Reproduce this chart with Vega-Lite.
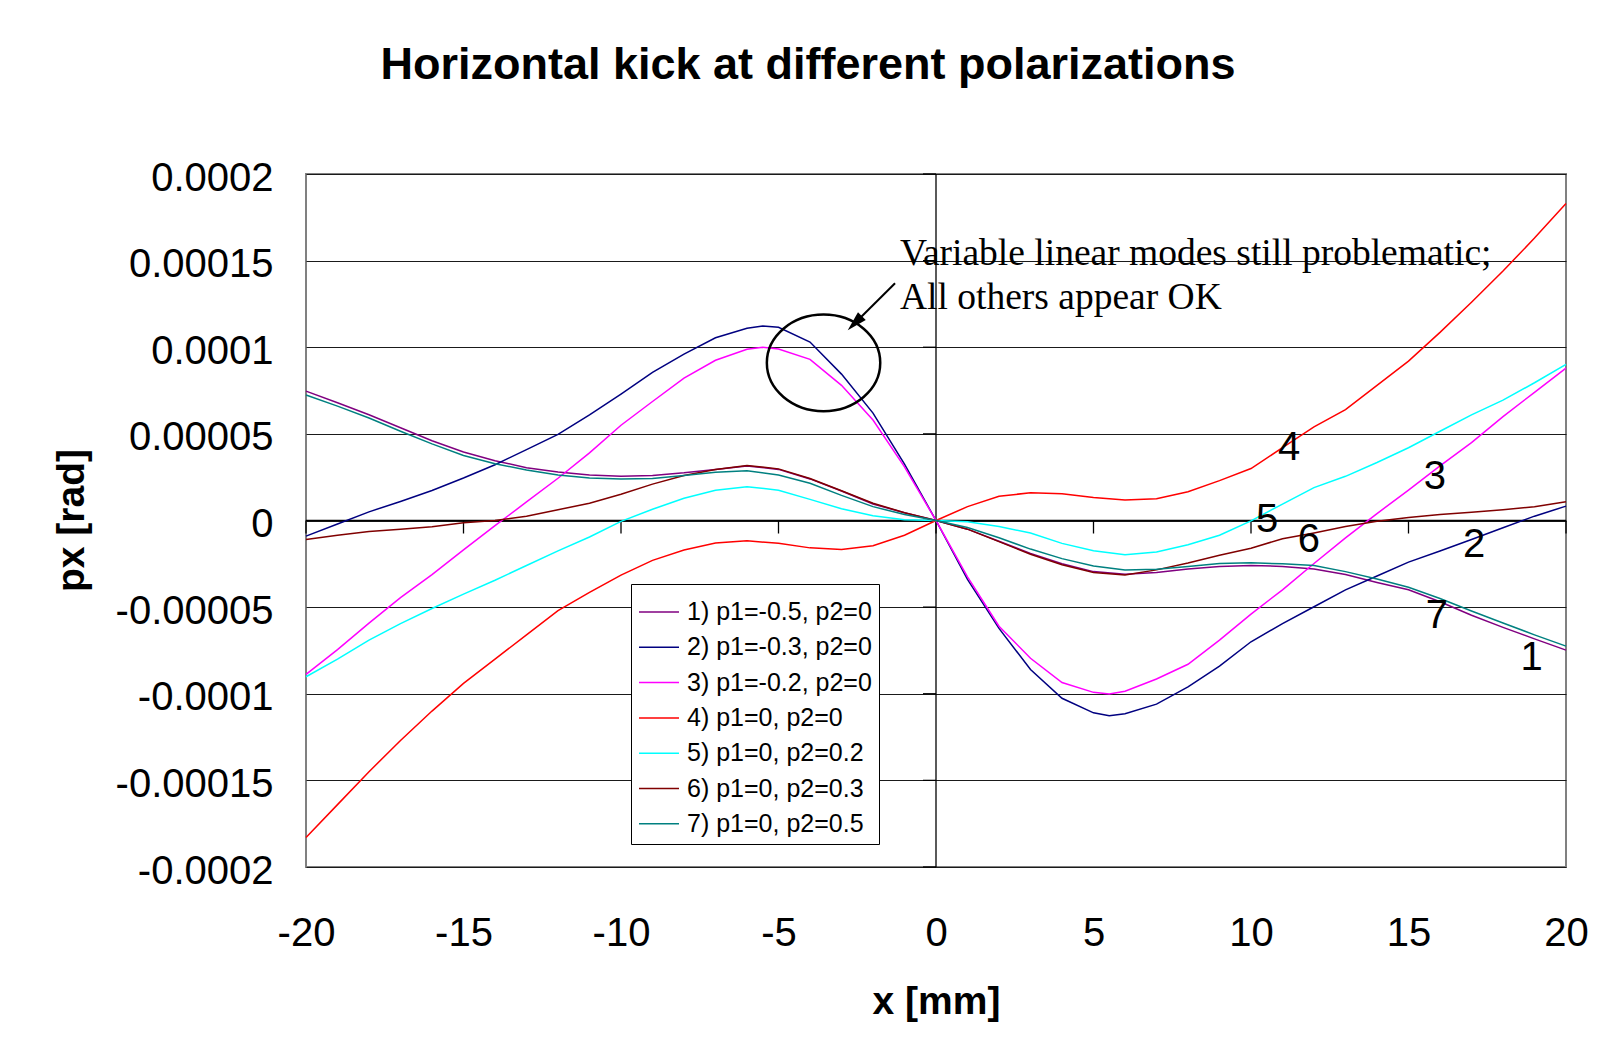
{
  "$schema": "https://vega.github.io/schema/vega-lite/v6.json",
  "width": 1260,
  "height": 693,
  "autosize": {"type": "none"},
  "padding": {"left": 306, "top": 174, "right": 32, "bottom": 190},
  "background": "white",
  "config": {
    "view": {"stroke": "#808080", "strokeWidth": 2},
    "font": "Liberation Sans"
  },
  "title": {
    "text": "Horizontal kick at different polarizations",
    "font": "Liberation Sans",
    "fontSize": 45,
    "fontWeight": "bold",
    "color": "black",
    "anchor": "middle",
    "frame": "group",
    "baseline": "alphabetic",
    "offset": 34,
    "dx": -128
  },
  "datasets": {
    "curves": [
      {"s": "1) p1=-0.5, p2=0", "x": -20, "y": 7.47e-5}, {"s": "1) p1=-0.5, p2=0", "x": -19, "y": 6.8e-5}, {"s": "1) p1=-0.5, p2=0", "x": -18, "y": 6.1e-5}, {"s": "1) p1=-0.5, p2=0", "x": -17, "y": 5.35e-5}, {"s": "1) p1=-0.5, p2=0", "x": -16, "y": 4.6e-5}, {"s": "1) p1=-0.5, p2=0", "x": -15, "y": 3.95e-5}, {"s": "1) p1=-0.5, p2=0", "x": -14, "y": 3.45e-5}, {"s": "1) p1=-0.5, p2=0", "x": -13, "y": 3.05e-5}, {"s": "1) p1=-0.5, p2=0", "x": -12, "y": 2.8e-5}, {"s": "1) p1=-0.5, p2=0", "x": -11, "y": 2.62e-5}, {"s": "1) p1=-0.5, p2=0", "x": -10, "y": 2.56e-5}, {"s": "1) p1=-0.5, p2=0", "x": -9, "y": 2.6e-5}, {"s": "1) p1=-0.5, p2=0", "x": -8, "y": 2.75e-5}, {"s": "1) p1=-0.5, p2=0", "x": -7, "y": 2.95e-5}, {"s": "1) p1=-0.5, p2=0", "x": -6, "y": 3.15e-5}, {"s": "1) p1=-0.5, p2=0", "x": -5, "y": 2.95e-5}, {"s": "1) p1=-0.5, p2=0", "x": -4, "y": 2.4e-5}, {"s": "1) p1=-0.5, p2=0", "x": -3, "y": 1.7e-5}, {"s": "1) p1=-0.5, p2=0", "x": -2, "y": 0.95e-5}, {"s": "1) p1=-0.5, p2=0", "x": -1, "y": 0.45e-5}, {"s": "1) p1=-0.5, p2=0", "x": 0, "y": 0}, {"s": "1) p1=-0.5, p2=0", "x": 1, "y": -0.5e-5}, {"s": "1) p1=-0.5, p2=0", "x": 2, "y": -1.2e-5}, {"s": "1) p1=-0.5, p2=0", "x": 3, "y": -1.9e-5}, {"s": "1) p1=-0.5, p2=0", "x": 4, "y": -2.5e-5}, {"s": "1) p1=-0.5, p2=0", "x": 5, "y": -2.95e-5}, {"s": "1) p1=-0.5, p2=0", "x": 6, "y": -3.1e-5}, {"s": "1) p1=-0.5, p2=0", "x": 7, "y": -3.0e-5}, {"s": "1) p1=-0.5, p2=0", "x": 8, "y": -2.8e-5}, {"s": "1) p1=-0.5, p2=0", "x": 9, "y": -2.65e-5}, {"s": "1) p1=-0.5, p2=0", "x": 10, "y": -2.6e-5}, {"s": "1) p1=-0.5, p2=0", "x": 11, "y": -2.65e-5}, {"s": "1) p1=-0.5, p2=0", "x": 12, "y": -2.8e-5}, {"s": "1) p1=-0.5, p2=0", "x": 13, "y": -3.12e-5}, {"s": "1) p1=-0.5, p2=0", "x": 14, "y": -3.58e-5}, {"s": "1) p1=-0.5, p2=0", "x": 15, "y": -4.0e-5}, {"s": "1) p1=-0.5, p2=0", "x": 16, "y": -4.69e-5}, {"s": "1) p1=-0.5, p2=0", "x": 17, "y": -5.47e-5}, {"s": "1) p1=-0.5, p2=0", "x": 18, "y": -6.17e-5}, {"s": "1) p1=-0.5, p2=0", "x": 19, "y": -6.83e-5}, {"s": "1) p1=-0.5, p2=0", "x": 20, "y": -7.48e-5},

      {"s": "2) p1=-0.3, p2=0", "x": -20, "y": -0.9e-5}, {"s": "2) p1=-0.3, p2=0", "x": -19, "y": -0.2e-5}, {"s": "2) p1=-0.3, p2=0", "x": -18, "y": 0.5e-5}, {"s": "2) p1=-0.3, p2=0", "x": -17, "y": 1.1e-5}, {"s": "2) p1=-0.3, p2=0", "x": -16, "y": 1.73e-5}, {"s": "2) p1=-0.3, p2=0", "x": -15, "y": 2.45e-5}, {"s": "2) p1=-0.3, p2=0", "x": -14, "y": 3.22e-5}, {"s": "2) p1=-0.3, p2=0", "x": -13, "y": 4.09e-5}, {"s": "2) p1=-0.3, p2=0", "x": -12, "y": 4.97e-5}, {"s": "2) p1=-0.3, p2=0", "x": -11, "y": 6.1e-5}, {"s": "2) p1=-0.3, p2=0", "x": -10, "y": 7.3e-5}, {"s": "2) p1=-0.3, p2=0", "x": -9, "y": 8.55e-5}, {"s": "2) p1=-0.3, p2=0", "x": -8, "y": 9.6e-5}, {"s": "2) p1=-0.3, p2=0", "x": -7, "y": 10.55e-5}, {"s": "2) p1=-0.3, p2=0", "x": -6, "y": 11.1e-5}, {"s": "2) p1=-0.3, p2=0", "x": -5.5, "y": 11.22e-5}, {"s": "2) p1=-0.3, p2=0", "x": -5, "y": 11.15e-5}, {"s": "2) p1=-0.3, p2=0", "x": -4, "y": 10.3e-5}, {"s": "2) p1=-0.3, p2=0", "x": -3, "y": 8.45e-5}, {"s": "2) p1=-0.3, p2=0", "x": -2, "y": 6.2e-5}, {"s": "2) p1=-0.3, p2=0", "x": -1, "y": 3.25e-5}, {"s": "2) p1=-0.3, p2=0", "x": 0, "y": 0}, {"s": "2) p1=-0.3, p2=0", "x": 1, "y": -3.4e-5}, {"s": "2) p1=-0.3, p2=0", "x": 2, "y": -6.23e-5}, {"s": "2) p1=-0.3, p2=0", "x": 3, "y": -8.6e-5}, {"s": "2) p1=-0.3, p2=0", "x": 4, "y": -10.26e-5}, {"s": "2) p1=-0.3, p2=0", "x": 5, "y": -11.1e-5}, {"s": "2) p1=-0.3, p2=0", "x": 5.5, "y": -11.27e-5}, {"s": "2) p1=-0.3, p2=0", "x": 6, "y": -11.15e-5}, {"s": "2) p1=-0.3, p2=0", "x": 7, "y": -10.6e-5}, {"s": "2) p1=-0.3, p2=0", "x": 8, "y": -9.6e-5}, {"s": "2) p1=-0.3, p2=0", "x": 9, "y": -8.4e-5}, {"s": "2) p1=-0.3, p2=0", "x": 10, "y": -7.0e-5}, {"s": "2) p1=-0.3, p2=0", "x": 11, "y": -5.95e-5}, {"s": "2) p1=-0.3, p2=0", "x": 12, "y": -4.98e-5}, {"s": "2) p1=-0.3, p2=0", "x": 13, "y": -4.0e-5}, {"s": "2) p1=-0.3, p2=0", "x": 14, "y": -3.2e-5}, {"s": "2) p1=-0.3, p2=0", "x": 15, "y": -2.4e-5}, {"s": "2) p1=-0.3, p2=0", "x": 16, "y": -1.76e-5}, {"s": "2) p1=-0.3, p2=0", "x": 17, "y": -1.1e-5}, {"s": "2) p1=-0.3, p2=0", "x": 18, "y": -0.42e-5}, {"s": "2) p1=-0.3, p2=0", "x": 19, "y": 0.25e-5}, {"s": "2) p1=-0.3, p2=0", "x": 20, "y": 0.83e-5},

      {"s": "3) p1=-0.2, p2=0", "x": -20, "y": -8.88e-5}, {"s": "3) p1=-0.2, p2=0", "x": -19, "y": -7.45e-5}, {"s": "3) p1=-0.2, p2=0", "x": -18, "y": -5.92e-5}, {"s": "3) p1=-0.2, p2=0", "x": -17, "y": -4.45e-5}, {"s": "3) p1=-0.2, p2=0", "x": -16, "y": -3.12e-5}, {"s": "3) p1=-0.2, p2=0", "x": -15, "y": -1.7e-5}, {"s": "3) p1=-0.2, p2=0", "x": -14, "y": -0.3e-5}, {"s": "3) p1=-0.2, p2=0", "x": -13, "y": 1.07e-5}, {"s": "3) p1=-0.2, p2=0", "x": -12, "y": 2.44e-5}, {"s": "3) p1=-0.2, p2=0", "x": -11, "y": 3.9e-5}, {"s": "3) p1=-0.2, p2=0", "x": -10, "y": 5.5e-5}, {"s": "3) p1=-0.2, p2=0", "x": -9, "y": 6.87e-5}, {"s": "3) p1=-0.2, p2=0", "x": -8, "y": 8.22e-5}, {"s": "3) p1=-0.2, p2=0", "x": -7, "y": 9.25e-5}, {"s": "3) p1=-0.2, p2=0", "x": -6, "y": 9.88e-5}, {"s": "3) p1=-0.2, p2=0", "x": -5.5, "y": 10.0e-5}, {"s": "3) p1=-0.2, p2=0", "x": -5, "y": 9.9e-5}, {"s": "3) p1=-0.2, p2=0", "x": -4, "y": 9.3e-5}, {"s": "3) p1=-0.2, p2=0", "x": -3, "y": 7.8e-5}, {"s": "3) p1=-0.2, p2=0", "x": -2, "y": 5.8e-5}, {"s": "3) p1=-0.2, p2=0", "x": -1, "y": 3.1e-5}, {"s": "3) p1=-0.2, p2=0", "x": 0, "y": 0}, {"s": "3) p1=-0.2, p2=0", "x": 1, "y": -3.25e-5}, {"s": "3) p1=-0.2, p2=0", "x": 2, "y": -6.1e-5}, {"s": "3) p1=-0.2, p2=0", "x": 3, "y": -7.95e-5}, {"s": "3) p1=-0.2, p2=0", "x": 4, "y": -9.35e-5}, {"s": "3) p1=-0.2, p2=0", "x": 5, "y": -9.92e-5}, {"s": "3) p1=-0.2, p2=0", "x": 5.5, "y": -10.02e-5}, {"s": "3) p1=-0.2, p2=0", "x": 6, "y": -9.85e-5}, {"s": "3) p1=-0.2, p2=0", "x": 7, "y": -9.15e-5}, {"s": "3) p1=-0.2, p2=0", "x": 8, "y": -8.3e-5}, {"s": "3) p1=-0.2, p2=0", "x": 9, "y": -6.9e-5}, {"s": "3) p1=-0.2, p2=0", "x": 10, "y": -5.4e-5}, {"s": "3) p1=-0.2, p2=0", "x": 11, "y": -4.0e-5}, {"s": "3) p1=-0.2, p2=0", "x": 12, "y": -2.48e-5}, {"s": "3) p1=-0.2, p2=0", "x": 13, "y": -1.0e-5}, {"s": "3) p1=-0.2, p2=0", "x": 14, "y": 0.4e-5}, {"s": "3) p1=-0.2, p2=0", "x": 15, "y": 1.75e-5}, {"s": "3) p1=-0.2, p2=0", "x": 16, "y": 3.15e-5}, {"s": "3) p1=-0.2, p2=0", "x": 17, "y": 4.5e-5}, {"s": "3) p1=-0.2, p2=0", "x": 18, "y": 6.0e-5}, {"s": "3) p1=-0.2, p2=0", "x": 19, "y": 7.4e-5}, {"s": "3) p1=-0.2, p2=0", "x": 20, "y": 8.8e-5},

      {"s": "4) p1=0, p2=0", "x": -20, "y": -18.3e-5}, {"s": "4) p1=0, p2=0", "x": -19, "y": -16.4e-5}, {"s": "4) p1=0, p2=0", "x": -18, "y": -14.5e-5}, {"s": "4) p1=0, p2=0", "x": -17, "y": -12.7e-5}, {"s": "4) p1=0, p2=0", "x": -16, "y": -11.0e-5}, {"s": "4) p1=0, p2=0", "x": -15, "y": -9.4e-5}, {"s": "4) p1=0, p2=0", "x": -14, "y": -8.0e-5}, {"s": "4) p1=0, p2=0", "x": -13, "y": -6.6e-5}, {"s": "4) p1=0, p2=0", "x": -12, "y": -5.2e-5}, {"s": "4) p1=0, p2=0", "x": -11, "y": -4.15e-5}, {"s": "4) p1=0, p2=0", "x": -10, "y": -3.15e-5}, {"s": "4) p1=0, p2=0", "x": -9, "y": -2.3e-5}, {"s": "4) p1=0, p2=0", "x": -8, "y": -1.7e-5}, {"s": "4) p1=0, p2=0", "x": -7, "y": -1.3e-5}, {"s": "4) p1=0, p2=0", "x": -6, "y": -1.17e-5}, {"s": "4) p1=0, p2=0", "x": -5, "y": -1.32e-5}, {"s": "4) p1=0, p2=0", "x": -4, "y": -1.58e-5}, {"s": "4) p1=0, p2=0", "x": -3, "y": -1.67e-5}, {"s": "4) p1=0, p2=0", "x": -2, "y": -1.46e-5}, {"s": "4) p1=0, p2=0", "x": -1, "y": -0.85e-5}, {"s": "4) p1=0, p2=0", "x": 0, "y": 0}, {"s": "4) p1=0, p2=0", "x": 1, "y": 0.8e-5}, {"s": "4) p1=0, p2=0", "x": 2, "y": 1.4e-5}, {"s": "4) p1=0, p2=0", "x": 3, "y": 1.6e-5}, {"s": "4) p1=0, p2=0", "x": 4, "y": 1.55e-5}, {"s": "4) p1=0, p2=0", "x": 5, "y": 1.33e-5}, {"s": "4) p1=0, p2=0", "x": 6, "y": 1.18e-5}, {"s": "4) p1=0, p2=0", "x": 7, "y": 1.26e-5}, {"s": "4) p1=0, p2=0", "x": 8, "y": 1.66e-5}, {"s": "4) p1=0, p2=0", "x": 9, "y": 2.3e-5}, {"s": "4) p1=0, p2=0", "x": 10, "y": 3.0e-5}, {"s": "4) p1=0, p2=0", "x": 11, "y": 4.2e-5}, {"s": "4) p1=0, p2=0", "x": 12, "y": 5.4e-5}, {"s": "4) p1=0, p2=0", "x": 13, "y": 6.4e-5}, {"s": "4) p1=0, p2=0", "x": 14, "y": 7.8e-5}, {"s": "4) p1=0, p2=0", "x": 15, "y": 9.2e-5}, {"s": "4) p1=0, p2=0", "x": 16, "y": 10.86e-5}, {"s": "4) p1=0, p2=0", "x": 17, "y": 12.6e-5}, {"s": "4) p1=0, p2=0", "x": 18, "y": 14.4e-5}, {"s": "4) p1=0, p2=0", "x": 19, "y": 16.3e-5}, {"s": "4) p1=0, p2=0", "x": 20, "y": 18.3e-5},

      {"s": "5) p1=0, p2=0.2", "x": -20, "y": -9.02e-5}, {"s": "5) p1=0, p2=0.2", "x": -19, "y": -8.0e-5}, {"s": "5) p1=0, p2=0.2", "x": -18, "y": -6.9e-5}, {"s": "5) p1=0, p2=0.2", "x": -17, "y": -5.95e-5}, {"s": "5) p1=0, p2=0.2", "x": -16, "y": -5.08e-5}, {"s": "5) p1=0, p2=0.2", "x": -15, "y": -4.25e-5}, {"s": "5) p1=0, p2=0.2", "x": -14, "y": -3.45e-5}, {"s": "5) p1=0, p2=0.2", "x": -13, "y": -2.6e-5}, {"s": "5) p1=0, p2=0.2", "x": -12, "y": -1.75e-5}, {"s": "5) p1=0, p2=0.2", "x": -11, "y": -0.95e-5}, {"s": "5) p1=0, p2=0.2", "x": -10, "y": -0.05e-5}, {"s": "5) p1=0, p2=0.2", "x": -9, "y": 0.65e-5}, {"s": "5) p1=0, p2=0.2", "x": -8, "y": 1.28e-5}, {"s": "5) p1=0, p2=0.2", "x": -7, "y": 1.75e-5}, {"s": "5) p1=0, p2=0.2", "x": -6, "y": 1.95e-5}, {"s": "5) p1=0, p2=0.2", "x": -5, "y": 1.75e-5}, {"s": "5) p1=0, p2=0.2", "x": -4, "y": 1.22e-5}, {"s": "5) p1=0, p2=0.2", "x": -3, "y": 0.68e-5}, {"s": "5) p1=0, p2=0.2", "x": -2, "y": 0.28e-5}, {"s": "5) p1=0, p2=0.2", "x": -1, "y": 0.05e-5}, {"s": "5) p1=0, p2=0.2", "x": 0, "y": 0}, {"s": "5) p1=0, p2=0.2", "x": 1, "y": -0.07e-5}, {"s": "5) p1=0, p2=0.2", "x": 2, "y": -0.35e-5}, {"s": "5) p1=0, p2=0.2", "x": 3, "y": -0.72e-5}, {"s": "5) p1=0, p2=0.2", "x": 4, "y": -1.32e-5}, {"s": "5) p1=0, p2=0.2", "x": 5, "y": -1.75e-5}, {"s": "5) p1=0, p2=0.2", "x": 6, "y": -1.98e-5}, {"s": "5) p1=0, p2=0.2", "x": 7, "y": -1.82e-5}, {"s": "5) p1=0, p2=0.2", "x": 8, "y": -1.4e-5}, {"s": "5) p1=0, p2=0.2", "x": 9, "y": -0.85e-5}, {"s": "5) p1=0, p2=0.2", "x": 10, "y": -0.02e-5}, {"s": "5) p1=0, p2=0.2", "x": 11, "y": 0.95e-5}, {"s": "5) p1=0, p2=0.2", "x": 12, "y": 1.9e-5}, {"s": "5) p1=0, p2=0.2", "x": 13, "y": 2.55e-5}, {"s": "5) p1=0, p2=0.2", "x": 14, "y": 3.35e-5}, {"s": "5) p1=0, p2=0.2", "x": 15, "y": 4.2e-5}, {"s": "5) p1=0, p2=0.2", "x": 16, "y": 5.15e-5}, {"s": "5) p1=0, p2=0.2", "x": 17, "y": 6.1e-5}, {"s": "5) p1=0, p2=0.2", "x": 18, "y": 6.95e-5}, {"s": "5) p1=0, p2=0.2", "x": 19, "y": 7.95e-5}, {"s": "5) p1=0, p2=0.2", "x": 20, "y": 9.01e-5},

      {"s": "6) p1=0, p2=0.3", "x": -20, "y": -1.09e-5}, {"s": "6) p1=0, p2=0.3", "x": -19, "y": -0.85e-5}, {"s": "6) p1=0, p2=0.3", "x": -18, "y": -0.64e-5}, {"s": "6) p1=0, p2=0.3", "x": -17, "y": -0.5e-5}, {"s": "6) p1=0, p2=0.3", "x": -16, "y": -0.36e-5}, {"s": "6) p1=0, p2=0.3", "x": -15, "y": -0.13e-5}, {"s": "6) p1=0, p2=0.3", "x": -14, "y": 0.0}, {"s": "6) p1=0, p2=0.3", "x": -13, "y": 0.25e-5}, {"s": "6) p1=0, p2=0.3", "x": -12, "y": 0.62e-5}, {"s": "6) p1=0, p2=0.3", "x": -11, "y": 1.0e-5}, {"s": "6) p1=0, p2=0.3", "x": -10, "y": 1.52e-5}, {"s": "6) p1=0, p2=0.3", "x": -9, "y": 2.1e-5}, {"s": "6) p1=0, p2=0.3", "x": -8, "y": 2.6e-5}, {"s": "6) p1=0, p2=0.3", "x": -7, "y": 2.95e-5}, {"s": "6) p1=0, p2=0.3", "x": -6, "y": 3.18e-5}, {"s": "6) p1=0, p2=0.3", "x": -5, "y": 2.98e-5}, {"s": "6) p1=0, p2=0.3", "x": -4, "y": 2.42e-5}, {"s": "6) p1=0, p2=0.3", "x": -3, "y": 1.72e-5}, {"s": "6) p1=0, p2=0.3", "x": -2, "y": 1.0e-5}, {"s": "6) p1=0, p2=0.3", "x": -1, "y": 0.45e-5}, {"s": "6) p1=0, p2=0.3", "x": 0, "y": 0}, {"s": "6) p1=0, p2=0.3", "x": 1, "y": -0.5e-5}, {"s": "6) p1=0, p2=0.3", "x": 2, "y": -1.22e-5}, {"s": "6) p1=0, p2=0.3", "x": 3, "y": -1.95e-5}, {"s": "6) p1=0, p2=0.3", "x": 4, "y": -2.55e-5}, {"s": "6) p1=0, p2=0.3", "x": 5, "y": -3.0e-5}, {"s": "6) p1=0, p2=0.3", "x": 6, "y": -3.15e-5}, {"s": "6) p1=0, p2=0.3", "x": 7, "y": -2.85e-5}, {"s": "6) p1=0, p2=0.3", "x": 8, "y": -2.45e-5}, {"s": "6) p1=0, p2=0.3", "x": 9, "y": -2.0e-5}, {"s": "6) p1=0, p2=0.3", "x": 10, "y": -1.6e-5}, {"s": "6) p1=0, p2=0.3", "x": 11, "y": -1.05e-5}, {"s": "6) p1=0, p2=0.3", "x": 12, "y": -0.72e-5}, {"s": "6) p1=0, p2=0.3", "x": 13, "y": -0.35e-5}, {"s": "6) p1=0, p2=0.3", "x": 14, "y": -0.05e-5}, {"s": "6) p1=0, p2=0.3", "x": 15, "y": 0.17e-5}, {"s": "6) p1=0, p2=0.3", "x": 16, "y": 0.35e-5}, {"s": "6) p1=0, p2=0.3", "x": 17, "y": 0.47e-5}, {"s": "6) p1=0, p2=0.3", "x": 18, "y": 0.62e-5}, {"s": "6) p1=0, p2=0.3", "x": 19, "y": 0.8e-5}, {"s": "6) p1=0, p2=0.3", "x": 20, "y": 1.08e-5},

      {"s": "7) p1=0, p2=0.5", "x": -20, "y": 7.24e-5}, {"s": "7) p1=0, p2=0.5", "x": -19, "y": 6.6e-5}, {"s": "7) p1=0, p2=0.5", "x": -18, "y": 5.92e-5}, {"s": "7) p1=0, p2=0.5", "x": -17, "y": 5.15e-5}, {"s": "7) p1=0, p2=0.5", "x": -16, "y": 4.42e-5}, {"s": "7) p1=0, p2=0.5", "x": -15, "y": 3.75e-5}, {"s": "7) p1=0, p2=0.5", "x": -14, "y": 3.28e-5}, {"s": "7) p1=0, p2=0.5", "x": -13, "y": 2.92e-5}, {"s": "7) p1=0, p2=0.5", "x": -12, "y": 2.62e-5}, {"s": "7) p1=0, p2=0.5", "x": -11, "y": 2.45e-5}, {"s": "7) p1=0, p2=0.5", "x": -10, "y": 2.39e-5}, {"s": "7) p1=0, p2=0.5", "x": -9, "y": 2.42e-5}, {"s": "7) p1=0, p2=0.5", "x": -8, "y": 2.6e-5}, {"s": "7) p1=0, p2=0.5", "x": -7, "y": 2.78e-5}, {"s": "7) p1=0, p2=0.5", "x": -6, "y": 2.87e-5}, {"s": "7) p1=0, p2=0.5", "x": -5, "y": 2.62e-5}, {"s": "7) p1=0, p2=0.5", "x": -4, "y": 2.15e-5}, {"s": "7) p1=0, p2=0.5", "x": -3, "y": 1.45e-5}, {"s": "7) p1=0, p2=0.5", "x": -2, "y": 0.8e-5}, {"s": "7) p1=0, p2=0.5", "x": -1, "y": 0.35e-5}, {"s": "7) p1=0, p2=0.5", "x": 0, "y": 0}, {"s": "7) p1=0, p2=0.5", "x": 1, "y": -0.4e-5}, {"s": "7) p1=0, p2=0.5", "x": 2, "y": -1.0e-5}, {"s": "7) p1=0, p2=0.5", "x": 3, "y": -1.65e-5}, {"s": "7) p1=0, p2=0.5", "x": 4, "y": -2.2e-5}, {"s": "7) p1=0, p2=0.5", "x": 5, "y": -2.62e-5}, {"s": "7) p1=0, p2=0.5", "x": 6, "y": -2.85e-5}, {"s": "7) p1=0, p2=0.5", "x": 7, "y": -2.82e-5}, {"s": "7) p1=0, p2=0.5", "x": 8, "y": -2.65e-5}, {"s": "7) p1=0, p2=0.5", "x": 9, "y": -2.48e-5}, {"s": "7) p1=0, p2=0.5", "x": 10, "y": -2.44e-5}, {"s": "7) p1=0, p2=0.5", "x": 11, "y": -2.5e-5}, {"s": "7) p1=0, p2=0.5", "x": 12, "y": -2.6e-5}, {"s": "7) p1=0, p2=0.5", "x": 13, "y": -2.95e-5}, {"s": "7) p1=0, p2=0.5", "x": 14, "y": -3.38e-5}, {"s": "7) p1=0, p2=0.5", "x": 15, "y": -3.85e-5}, {"s": "7) p1=0, p2=0.5", "x": 16, "y": -4.5e-5}, {"s": "7) p1=0, p2=0.5", "x": 17, "y": -5.22e-5}, {"s": "7) p1=0, p2=0.5", "x": 18, "y": -5.92e-5}, {"s": "7) p1=0, p2=0.5", "x": 19, "y": -6.6e-5}, {"s": "7) p1=0, p2=0.5", "x": 20, "y": -7.25e-5}
    ]
  },
  "layer": [
    {
      "data": {"values": [{"y": 0}]},
      "mark": {"type": "rule", "color": "black", "strokeWidth": 1.3},
      "encoding": {
        "y": {"field": "y", "type": "quantitative", "scale": {"domain": [-0.0002, 0.0002], "nice": false, "zero": false},
          "axis": {
            "values": [-0.0002, -0.00015, -0.0001, -0.00005, 0, 0.00005, 0.0001, 0.00015, 0.0002],
            "labelExpr": "toString(datum.value)",
            "labelFont": "Liberation Sans", "labelFontSize": 40, "labelColor": "black",
            "labelPadding": 33, "labelBaseline": "middle", "labelOffset": 4, "labelBound": false, "labelOverlap": false,
            "ticks": false, "tickSize": 0, "domain": false,
            "grid": true, "gridColor": "#1a1a1a", "gridWidth": 1.2,
            "title": "px [rad]", "titleFont": "Liberation Sans", "titleFontSize": 39, "titleFontWeight": "bold", "titleColor": "black",
            "titleAngle": -90, "titleX": -223, "titleY": 346, "titleBaseline": "alphabetic", "titleAlign": "center"
          }
        }
      }
    },
    {
      "data": {"values": [{"x": 0}]},
      "mark": {"type": "rule", "color": "black", "strokeWidth": 1.3},
      "encoding": {
        "x": {"field": "x", "type": "quantitative", "scale": {"domain": [-20, 20], "nice": false, "zero": false},
          "axis": {
            "values": [-20, -15, -10, -5, 0, 5, 10, 15, 20],
            "labelExpr": "toString(datum.value)",
            "labelFont": "Liberation Sans", "labelFontSize": 40, "labelColor": "black",
            "labelPadding": 46, "labelBaseline": "top", "labelBound": false, "labelOverlap": false, "labelFlush": false,
            "ticks": false, "tickSize": 0, "domain": false, "grid": false,
            "title": "x [mm]", "titleFont": "Liberation Sans", "titleFontSize": 39, "titleFontWeight": "bold", "titleColor": "black",
            "titleY": 146, "titleX": 630, "titleBaseline": "alphabetic", "titleAlign": "center"
          }
        }
      }
    },
    {
      "data": {"values": [{"x": -20, "y": 0}, {"x": -15, "y": 0}, {"x": -10, "y": 0}, {"x": -5, "y": 0}, {"x": 0, "y": 0}, {"x": 5, "y": 0}, {"x": 10, "y": 0}, {"x": 15, "y": 0}, {"x": 20, "y": 0}]},
      "mark": {"type": "tick", "orient": "vertical", "color": "black", "size": 13, "thickness": 1.3, "yOffset": 6.5, "opacity": 1},
      "encoding": {
        "x": {"field": "x", "type": "quantitative"},
        "y": {"field": "y", "type": "quantitative"}
      }
    },
    {
      "data": {"values": [{"x": 0, "y": -0.0002}, {"x": 0, "y": -0.00015}, {"x": 0, "y": -0.0001}, {"x": 0, "y": -0.00005}, {"x": 0, "y": 0}, {"x": 0, "y": 0.00005}, {"x": 0, "y": 0.0001}, {"x": 0, "y": 0.00015}, {"x": 0, "y": 0.0002}]},
      "mark": {"type": "tick", "orient": "horizontal", "color": "black", "size": 13, "thickness": 1.3, "xOffset": -6.5, "opacity": 1},
      "encoding": {
        "x": {"field": "x", "type": "quantitative"},
        "y": {"field": "y", "type": "quantitative"}
      }
    },
    {
      "data": {"name": "curves"},
      "mark": {"type": "line", "strokeWidth": 1.5, "interpolate": "linear"},
      "encoding": {
        "x": {"field": "x", "type": "quantitative"},
        "y": {"field": "y", "type": "quantitative"},
        "color": {
          "field": "s", "type": "nominal",
          "scale": {
            "domain": ["1) p1=-0.5, p2=0", "2) p1=-0.3, p2=0", "3) p1=-0.2, p2=0", "4) p1=0, p2=0", "5) p1=0, p2=0.2", "6) p1=0, p2=0.3", "7) p1=0, p2=0.5"],
            "range": ["#800080", "#000080", "#FF00FF", "#FF0000", "#00FFFF", "#800000", "#008080"]
          },
          "legend": {
            "orient": "none", "legendX": 325, "legendY": 410, "title": null,
            "symbolType": "stroke", "symbolSize": 1600, "symbolStrokeWidth": 1.5,
            "labelFont": "Liberation Sans", "labelFontSize": 25, "labelColor": "black", "labelLimit": 400,
            "labelOffset": 7, "padding": 7, "rowPadding": 1.3,
            "strokeColor": "black", "fillColor": "white"
          }
        }
      }
    },
    {
      "data": {"values": [
        {"x": 11.21, "y": 4.29e-5, "t": "4"},
        {"x": 15.84, "y": 2.62e-5, "t": "3"},
        {"x": 10.51, "y": 0.14e-5, "t": "5"},
        {"x": 11.84, "y": -1.02e-5, "t": "6"},
        {"x": 17.08, "y": -1.3e-5, "t": "2"},
        {"x": 15.9, "y": -5.39e-5, "t": "7"},
        {"x": 18.91, "y": -7.82e-5, "t": "1"}
      ]},
      "mark": {"type": "text", "font": "Liberation Sans", "fontSize": 40, "color": "black", "align": "center", "baseline": "middle", "dy": 2},
      "encoding": {
        "x": {"field": "x", "type": "quantitative"},
        "y": {"field": "y", "type": "quantitative"},
        "text": {"field": "t", "type": "nominal"}
      }
    },
    {
      "data": {"values": [
        {"x": -1.143, "y": 14.74e-5, "t": "Variable linear modes still problematic;"},
        {"x": -1.143, "y": 12.18e-5, "t": "All others appear OK"}
      ]},
      "mark": {"type": "text", "font": "Liberation Serif", "fontSize": 37.5, "color": "black", "align": "left", "baseline": "alphabetic"},
      "encoding": {
        "x": {"field": "x", "type": "quantitative"},
        "y": {"field": "y", "type": "quantitative"},
        "text": {"field": "t", "type": "nominal"}
      }
    },
    {
      "data": {"values": [{"x": -3.57, "y": 9.1e-5}]},
      "mark": {"type": "point", "shape": "M -1 0 C -1 -0.4706 -0.5523 -0.852 0 -0.852 C 0.5523 -0.852 1 -0.4706 1 0 C 1 0.4706 0.5523 0.852 0 0.852 C -0.5523 0.852 -1 0.4706 -1 0 Z", "size": 12860, "filled": false, "stroke": "black", "strokeWidth": 2.5, "opacity": 1},
      "encoding": {
        "x": {"field": "x", "type": "quantitative"},
        "y": {"field": "y", "type": "quantitative"}
      }
    },
    {
      "data": {"values": [{"x": -1.3, "y": 13.69e-5, "x2": -2.578, "y2": 11.39e-5}]},
      "mark": {"type": "rule", "color": "black", "strokeWidth": 2},
      "encoding": {
        "x": {"field": "x", "type": "quantitative"},
        "y": {"field": "y", "type": "quantitative"},
        "x2": {"field": "x2"},
        "y2": {"field": "y2"}
      }
    },
    {
      "data": {"values": [{"x": -2.578, "y": 11.39e-5}]},
      "mark": {"type": "point", "shape": "M 0 -1 L 0.55 1 L -0.55 1 Z", "size": 400, "angle": 225, "filled": true, "color": "black", "opacity": 1},
      "encoding": {
        "x": {"field": "x", "type": "quantitative"},
        "y": {"field": "y", "type": "quantitative"}
      }
    }
  ]
}
